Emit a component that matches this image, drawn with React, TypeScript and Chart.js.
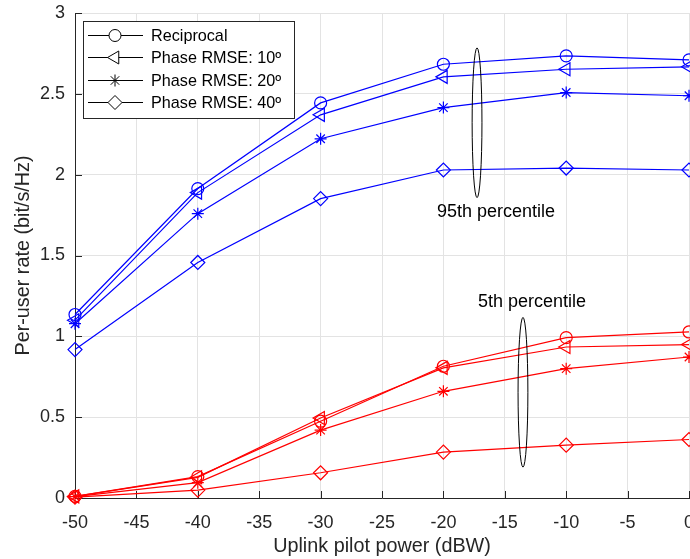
import React, { useEffect, useRef } from 'react';
import { Chart, registerables } from 'chart.js';
import { drawPoint } from 'chart.js/helpers';

Chart.register(...registerables);

// ---------- data ----------
const xValues = [-50, -40, -30, -20, -10, 0];
const seriesNames = ['Reciprocal', 'Phase RMSE: 10º', 'Phase RMSE: 20º', 'Phase RMSE: 40º'];

// 95th percentile (blue)
const p95Reciprocal = [1.135, 1.914, 2.444, 2.683, 2.735, 2.71];
const p95Rmse10 = [1.1, 1.889, 2.37, 2.605, 2.652, 2.667];
const p95Rmse20 = [1.078, 1.759, 2.222, 2.415, 2.508, 2.488];
const p95Rmse40 = [0.918, 1.457, 1.852, 2.029, 2.041, 2.029];

// 5th percentile (red)
const p5Reciprocal = [0.01, 0.132, 0.475, 0.815, 0.992, 1.027];
const p5Rmse10 = [0.01, 0.128, 0.495, 0.805, 0.934, 0.949];
const p5Rmse20 = [0.008, 0.095, 0.42, 0.66, 0.8, 0.872];
const p5Rmse40 = [0.005, 0.049, 0.156, 0.284, 0.327, 0.362];

const xTicks = [-50, -45, -40, -35, -30, -25, -20, -15, -10, -5, 0];
const yTicks = [0, 0.5, 1, 1.5, 2, 2.5, 3];

const xTitle = 'Uplink pilot power (dBW)';
const yTitle = 'Per-user rate (bit/s/Hz)';

// annotations (ellipses around groups + labels), in data units
const annotLabels = ['95th percentile', '5th percentile'];
const annotEllipseX = [-17.26, -13.52];
const annotEllipseTop = [2.784, 1.117];
const annotEllipseBottom = [1.858, 0.191];
const annotEllipseHalfWidth = [0.4, 0.4];
const annotTextX = [-15.72, -12.78];
const annotTextY = [1.77, 1.215];

// ---------- styles ----------
const FONT = "'Liberation Sans', Arial, Helvetica, sans-serif";
const BLUE = '#0000ff';
const RED = '#ff0000';
const AXIS = '#262626';
const markerStyles = ['circle', 'triangle', 'star', 'rectRot'];
const markerRotations = [0, -90, 0, 0];
const markerRadii = [6, 7.5, 6, 7];

const makeDs = (data: number[], i: number, color: string) => ({
  label: seriesNames[i],
  data: xValues.map((x, k) => ({ x, y: data[k] })),
  borderColor: color,
  backgroundColor: 'rgba(0,0,0,0)',
  borderWidth: 1.2,
  pointStyle: markerStyles[i],
  pointRotation: markerRotations[i],
  pointRadius: markerRadii[i],
  pointBorderColor: color,
  pointBackgroundColor: 'rgba(0,0,0,0)',
  pointBorderWidth: 1.2,
  fill: false,
  tension: 0,
  clip: false as any,
});

const decorPlugin = {
  id: 'decor',
  beforeDraw(chart: any) {
    const { ctx, width, height } = chart;
    ctx.save();
    ctx.fillStyle = '#ffffff';
    ctx.fillRect(0, 0, width, height);
    ctx.restore();
  },
  beforeDatasetsDraw(chart: any) {
    const { ctx, chartArea } = chart;
    const x = chart.scales.x;
    const y = chart.scales.y;
    ctx.save();
    ctx.strokeStyle = AXIS;
    ctx.lineWidth = 1;
    ctx.beginPath();
    for (const v of xTicks) {
      const px = Math.round(x.getPixelForValue(v)) + 0.5;
      ctx.moveTo(px, chartArea.bottom);
      ctx.lineTo(px, chartArea.bottom - 7);
    }
    for (const v of yTicks) {
      const py = Math.round(y.getPixelForValue(v)) + 0.5;
      ctx.moveTo(chartArea.left, py);
      ctx.lineTo(chartArea.left + 7, py);
    }
    ctx.stroke();
    ctx.restore();
  },
  afterDatasetsDraw(chart: any) {
    const { ctx } = chart;
    const x = chart.scales.x;
    const y = chart.scales.y;
    ctx.save();
    ctx.strokeStyle = '#000000';
    ctx.lineWidth = 1;
    for (let i = 0; i < annotLabels.length; i++) {
      const cx = x.getPixelForValue(annotEllipseX[i]);
      const rx = Math.abs(x.getPixelForValue(annotEllipseX[i] + annotEllipseHalfWidth[i]) - cx);
      const top = y.getPixelForValue(annotEllipseTop[i]);
      const bot = y.getPixelForValue(annotEllipseBottom[i]);
      ctx.beginPath();
      ctx.ellipse(cx, (top + bot) / 2, rx, Math.abs(bot - top) / 2, 0, 0, Math.PI * 2);
      ctx.stroke();
      ctx.fillStyle = '#000000';
      ctx.font = `18px ${FONT}`;
      ctx.textAlign = 'center';
      ctx.textBaseline = 'middle';
      ctx.fillText(annotLabels[i], x.getPixelForValue(annotTextX[i]), y.getPixelForValue(annotTextY[i]));
    }
    ctx.restore();
  },
  afterDraw(chart: any) {
    const { ctx, chartArea } = chart;
    const lx = chartArea.left + 8;
    const ly = chartArea.top + 8;
    const w = 211;
    const h = 97;
    ctx.save();
    ctx.fillStyle = '#ffffff';
    ctx.fillRect(lx, ly, w, h);
    ctx.strokeStyle = AXIS;
    ctx.lineWidth = 1;
    ctx.strokeRect(Math.round(lx) + 0.5, Math.round(ly) + 0.5, w, h);
    ctx.font = `16.2px ${FONT}`;
    ctx.textAlign = 'left';
    ctx.textBaseline = 'middle';
    for (let i = 0; i < seriesNames.length; i++) {
      const ry = Math.round(ly + 14 + i * 22.3) + 0.5;
      ctx.strokeStyle = '#000000';
      ctx.lineWidth = 1;
      ctx.beginPath();
      ctx.moveTo(lx + 5, ry);
      ctx.lineTo(lx + 60, ry);
      ctx.stroke();
      ctx.fillStyle = '#ffffff';
      ctx.strokeStyle = '#000000';
      drawPoint(ctx, { pointStyle: markerStyles[i] as any, rotation: markerRotations[i], radius: markerRadii[i], borderWidth: 1 }, lx + 32, ry);
      ctx.fillStyle = '#000000';
      ctx.fillText(seriesNames[i], lx + 68, ry + 1);
    }
    ctx.restore();
  },
};

export default function App() {
  const ref = useRef<HTMLCanvasElement>(null);
  useEffect(() => {
    const blue = [p95Reciprocal, p95Rmse10, p95Rmse20, p95Rmse40];
    const red = [p5Reciprocal, p5Rmse10, p5Rmse20, p5Rmse40];
    const datasets = [
      ...blue.map((d, i) => makeDs(d, i, BLUE)),
      ...red.map((d, i) => makeDs(d, i, RED)),
    ];
    const gridColor = '#e3e3e3';
    const chart = new Chart(ref.current as HTMLCanvasElement, {
      type: 'line',
      data: { datasets } as any,
      plugins: [decorPlugin],
      options: {
        responsive: false,
        maintainAspectRatio: false,
        animation: false,
        devicePixelRatio: 1,
        layout: { padding: { left: 8, top: 13, right: 9, bottom: 0 } },
        plugins: { legend: { display: false }, tooltip: { enabled: false } },
        scales: {
          x: {
            type: 'linear',
            min: -50,
            max: 0,
            afterBuildTicks: (scale: any) => {
              scale.ticks = xTicks.map((v) => ({ value: v }));
            },
            afterFit: (scale: any) => {
              scale.height = 61;
              scale.paddingLeft = 0;
              scale.paddingRight = 0;
            },
            grid: { color: gridColor, drawTicks: false, lineWidth: 1 },
            border: { color: AXIS, width: 1 },
            ticks: {
              padding: 14,
              color: AXIS,
              font: { family: FONT, size: 18 },
              maxRotation: 0,
              autoSkip: false,
              callback: (v: any) => String(v),
            },
            title: {
              display: true,
              text: xTitle,
              color: AXIS,
              font: { family: FONT, size: 19.8 },
              padding: { top: 2, bottom: 1 },
            },
          },
          y: {
            type: 'linear',
            min: 0,
            max: 3,
            afterBuildTicks: (scale: any) => {
              scale.ticks = yTicks.map((v) => ({ value: v }));
            },
            afterFit: (scale: any) => {
              scale.width = 67;
              scale.paddingTop = 0;
              scale.paddingBottom = 0;
            },
            grid: { color: gridColor, drawTicks: false, lineWidth: 1 },
            border: { color: AXIS, width: 1 },
            ticks: {
              padding: 10,
              color: AXIS,
              font: { family: FONT, size: 18 },
              autoSkip: false,
              callback: (v: any) => String(v),
            },
            title: {
              display: true,
              text: yTitle,
              color: AXIS,
              font: { family: FONT, size: 19.8 },
              padding: { top: 4, bottom: 4 },
            },
          },
        },
      } as any,
    });
    return () => chart.destroy();
  }, []);
  return (
    <div
      style={{
        position: 'fixed',
        left: 0,
        top: 0,
        width: 690,
        height: 559,
        overflow: 'hidden',
        background: '#ffffff',
      }}
    >
      <canvas ref={ref} width={698} height={559} style={{ display: 'block' }} />
    </div>
  );
}
